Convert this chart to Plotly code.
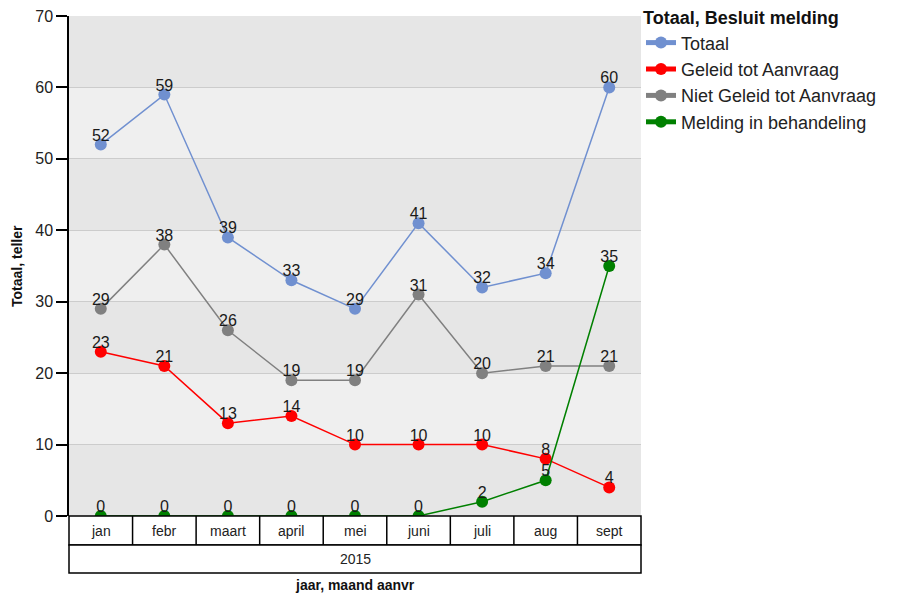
import plotly.graph_objects as go

months = ["jan", "febr", "maart", "april", "mei", "juni", "juli", "aug", "sept"]
year_label = "2015"
totaal = [52, 59, 39, 33, 29, 41, 32, 34, 60]
geleid = [23, 21, 13, 14, 10, 10, 10, 8, 4]
niet_geleid = [29, 38, 26, 19, 19, 31, 20, 21, 21]
melding = [0, 0, 0, 0, 0, 0, 2, 5, 35]

series = [
    ("Totaal", totaal, "#7090d0"),
    ("Geleid tot Aanvraag", geleid, "#ff0000"),
    ("Niet Geleid tot Aanvraag", niet_geleid, "#808080"),
    ("Melding in behandeling", melding, "#008000"),
]

FONT = "Liberation Sans, Arial, sans-serif"

fig = go.Figure()
for name, vals, col in series:
    fig.add_trace(go.Scatter(
        x=months, y=vals, name=name, mode="lines+markers",
        line=dict(color=col, width=1.5),
        marker=dict(color=col, size=12),
        cliponaxis=False,
    ))
for name, vals, col in series:
    fig.add_trace(go.Scatter(
        x=months, y=vals, name=name, mode="text", showlegend=False,
        text=[str(v) for v in vals], textposition="top center",
        textfont=dict(size=16, color="#1a1a1a", family=FONT),
        cliponaxis=False, hoverinfo="skip",
    ))

shapes = []
# alternating bands
for lo in range(0, 70, 20):
    shapes.append(dict(type="rect", xref="paper", yref="y", x0=0, x1=1, y0=lo, y1=lo + 10,
                       fillcolor="#e6e6e6", line=dict(width=0), layer="below"))
# category table
r1 = -0.058
r2 = -0.114
shapes.append(dict(type="rect", xref="paper", yref="paper", x0=0, x1=1, y0=r1, y1=0,
                   line=dict(color="black", width=1.5), fillcolor="white"))
shapes.append(dict(type="rect", xref="paper", yref="paper", x0=0, x1=1, y0=r2, y1=r1,
                   line=dict(color="black", width=1.5), fillcolor="white"))
for i in range(len(months) - 1):
    shapes.append(dict(type="line", xref="x", yref="paper", x0=i + 0.5, x1=i + 0.5, y0=r1, y1=0,
                       line=dict(color="black", width=1.5)))

annotations = []
for m in months:
    annotations.append(dict(x=m, y=r1 / 2, xref="x", yref="paper", text=m, showarrow=False,
                            font=dict(size=14, color="#222222", family=FONT), yanchor="middle"))
annotations.append(dict(x=0.5, y=(r1 + r2) / 2, xref="paper", yref="paper", text=year_label,
                        showarrow=False, font=dict(size=14, color="#222222", family=FONT), yanchor="middle"))
annotations.append(dict(x=0.5, y=-0.138, xref="paper", yref="paper", text="<b>jaar, maand aanvr</b>",
                        showarrow=False, font=dict(size=14, color="#111111", family=FONT), yanchor="middle"))
annotations.append(dict(x=-0.091, y=0.5, xref="paper", yref="paper", text="<b>Totaal, teller</b>",
                        showarrow=False, textangle=-90, font=dict(size=14, color="#111111", family=FONT),
                        xanchor="center", yanchor="middle"))

fig.update_layout(
    width=897, height=599,
    margin=dict(l=61, r=264, t=8, b=91, autoexpand=False),
    paper_bgcolor="white",
    plot_bgcolor="#efefef",
    font=dict(family=FONT, size=14, color="#222222"),
    showlegend=True,
    legend=dict(
        title=dict(text="<b>Totaal, Besluit melding</b>", font=dict(size=18, color="#111111")),
        x=1.0, y=1.03, xanchor="left", yanchor="top",
        font=dict(size=18, color="#222222"), tracegroupgap=0, itemsizing="constant",
        bgcolor="rgba(0,0,0,0)",
    ),
    xaxis=dict(type="category", categoryorder="array", categoryarray=months, range=[-0.5, 8.5],
               showticklabels=False, showgrid=False, showline=False, zeroline=False, ticks=""),
    yaxis=dict(range=[0, 70], dtick=10, showgrid=True, gridcolor="#cccccc", gridwidth=1,
               zeroline=False, showline=True, linecolor="black", linewidth=1.5,
               ticks="outside", ticklen=11, tickcolor="black", tickwidth=1.5,
               ticklabeloverflow="allow",
               tickfont=dict(size=16, color="#222222")),
    shapes=shapes,
    annotations=annotations,
)

fig.write_html("out.html")
